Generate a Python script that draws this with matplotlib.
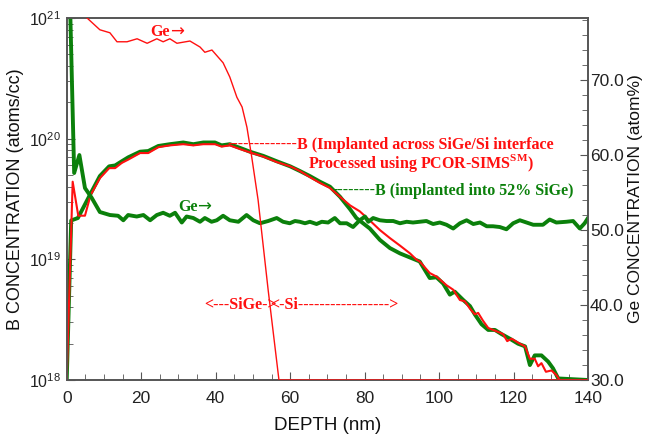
import matplotlib
matplotlib.use("Agg")
import matplotlib.pyplot as plt
from matplotlib.ticker import MultipleLocator, LogLocator, NullFormatter, FormatStrFormatter

plt.rcParams['font.family'] = ['Liberation Sans', 'DejaVu Sans']
plt.rcParams['mathtext.fontset'] = 'custom'
plt.rcParams['mathtext.rm'] = 'Liberation Serif:bold'
plt.rcParams['mathtext.bf'] = 'Liberation Serif:bold'

RED = '#ff1010'
GREEN = '#0b800b'

# B profile, implanted across SiGe/Si interface (red, left axis)
red_b_x = [0.0, 1.6, 3.1, 4.9, 6.4, 8.9, 11.4, 13.0, 14.8, 16.5, 19.7, 21.9, 24.6,
           27.7, 31.3, 34.0, 36.7, 39.8, 41.6, 43.8, 46.5, 49.2, 52.8, 56.4, 60.0,
           62.6, 65.3, 68.0, 70.7, 73.4, 76.1, 78.7, 81.4, 84.1, 86.8, 89.5, 92.2,
           94.0, 94.8, 97.5, 99.3, 102.0, 103.8, 105.6, 106.9, 108.3, 109.6, 110.5,
           111.8, 113.2, 114.5, 115.9, 117.2, 118.3, 119.5, 121.7, 123.1, 124.4,
           125.7, 126.6, 127.5, 128.7, 130.2, 131.5, 132.4, 140.0]
red_b = [1.0e18, 4.4e19, 2.3e19, 2.3e19, 3.4e19, 4.7e19, 5.7e19, 5.7e19, 6.3e19,
         6.7e19, 7.6e19, 7.6e19, 8.5e19, 8.8e19, 9.0e19, 8.8e19, 9.0e19, 9.0e19,
         8.6e19, 8.8e19, 8.2e19, 7.7e19, 7.1e19, 6.4e19, 5.9e19, 5.4e19, 4.8e19,
         4.3e19, 3.9e19, 3.3e19, 2.8e19, 2.5e19, 2.1e19, 1.75e19, 1.5e19, 1.3e19,
         1.12e19, 9.9e18, 9.6e18, 7.7e18, 7.2e18, 6.1e18, 5.6e18, 4.6e18, 4.5e18,
         3.9e18, 3.5e18, 3.6e18, 3.1e18, 2.7e18, 2.6e18, 2.5e18, 2.4e18, 2.1e18,
         2.2e18, 2.0e18, 1.9e18, 1.5e18, 1.5e18, 1.3e18, 1.38e18, 1.17e18, 1.2e18,
         1.1e18, 1.0e18, 1.0e18]

# B profile, implanted into 52% SiGe (green, left axis)
green_b_x = [0.0, 1.2, 3.0, 6.4, 8.9, 11.4, 13.0, 14.8, 16.5, 19.7, 21.9, 24.6, 27.7,
             31.3, 34.0, 36.7, 39.8, 41.6, 43.8, 46.5, 49.2, 52.8, 56.4, 60.0, 62.6,
             65.3, 68.0, 70.7, 73.4, 76.1, 77.8, 81.4, 84.1, 86.8, 89.5, 94.8, 97.5,
             99.3, 101.1, 102.9, 104.2, 106.5, 108.3, 109.6, 111.4, 113.2, 115.0,
             116.8, 119.0, 121.2, 123.1, 124.4, 125.7, 127.5, 129.3, 130.6, 132.0,
             140.0]
green_b = [1.0e18, 2.1e19, 2.2e19, 3.5e19, 4.9e19, 5.9e19, 6.0e19, 6.5e19, 7.0e19,
           7.8e19, 7.9e19, 8.7e19, 9.0e19, 9.3e19, 9.0e19, 9.3e19, 9.3e19, 8.8e19,
           9.0e19, 8.4e19, 7.8e19, 7.2e19, 6.5e19, 5.9e19, 5.4e19, 4.9e19, 4.4e19,
           4.0e19, 3.3e19, 2.6e19, 2.2e19, 1.8e19, 1.45e19, 1.24e19, 1.12e19, 9.6e18,
           7.0e18, 7.1e18, 6.3e18, 5.1e18, 5.4e18, 4.6e18, 4.1e18, 3.5e18, 2.9e18,
           2.6e18, 2.6e18, 2.4e18, 2.2e18, 2.0e18, 1.9e18, 1.33e18, 1.6e18, 1.6e18,
           1.42e18, 1.25e18, 1.03e18, 1.0e18]

# Ge profile of the interface sample (red, right axis)
red_ge_x = [0.0, 5.4, 8.9, 11.6, 13.5, 16.2, 18.9, 21.6, 24.2, 25.9, 27.7, 29.6,
            33.1, 35.8, 37.1, 39.0, 42.0, 43.8, 45.7, 47.1, 48.4, 49.7, 51.4, 54.1,
            57.0, 140.0]
red_ge = [80.0, 78.3, 76.7, 76.3, 75.1, 75.1, 75.5, 74.9, 75.5, 75.1, 75.5, 74.9,
          75.2, 74.4, 73.7, 74.0, 72.3, 70.4, 67.7, 66.4, 63.7, 59.7, 54.0, 42.0,
          30.0, 30.0]

# Ge profile of the 52% SiGe sample (green, right axis)
green_ge_x = [0.0, 0.9, 2.0, 3.4, 4.9, 6.7, 8.9, 11.6, 13.8, 15.2, 16.5, 18.8, 20.6,
              22.4, 24.2, 25.9, 27.7, 29.1, 30.9, 32.2, 34.0, 35.8, 37.1, 38.9, 40.3,
              42.0, 43.8, 46.1, 48.3, 50.1, 51.9, 54.1, 56.4, 58.1, 59.9, 61.3, 62.6,
              64.0, 65.3, 67.1, 68.5, 70.2, 72.0, 73.4, 75.2, 76.9, 78.7, 80.1, 81.0,
              82.3, 84.1, 85.9, 87.7, 89.5, 91.3, 93.0, 94.8, 96.6, 98.4, 100.2, 102.0,
              103.8, 105.6, 107.4, 109.2, 111.0, 112.8, 114.5, 116.3, 118.1, 119.9,
              121.7, 123.5, 125.3, 127.9, 129.7, 131.5, 134.2, 136.0, 137.8, 139.1,
              140.0]
green_ge = [85.0, 80.0, 57.6, 60.0, 55.6, 54.3, 52.4, 52.0, 51.9, 51.3, 52.0, 51.8,
            52.0, 51.3, 52.0, 52.3, 51.9, 52.3, 51.0, 51.8, 51.6, 51.1, 51.6, 51.1,
            51.3, 51.9, 51.3, 51.1, 52.0, 51.3, 50.9, 51.2, 51.6, 51.1, 50.9, 51.2,
            51.1, 50.9, 51.1, 50.8, 51.1, 51.0, 51.6, 50.9, 50.9, 50.4, 51.3, 51.8,
            51.1, 51.6, 51.3, 51.2, 51.2, 50.9, 51.1, 51.0, 51.1, 51.2, 50.8, 51.0,
            50.7, 50.2, 50.9, 51.3, 50.8, 51.0, 50.5, 50.5, 50.4, 50.1, 50.9, 51.3,
            51.0, 50.7, 50.7, 51.4, 51.0, 51.1, 51.2, 50.2, 50.9, 51.6]

fig = plt.figure(figsize=(6.49, 4.38), dpi=100)
ax = fig.add_axes([0.1028, 0.1324, 0.8032, 0.8265])
ax2 = ax.twinx()

ax.plot(green_b_x, green_b, color=GREEN, lw=2.8, zorder=2)
ax.plot(red_b_x, red_b, color=RED, lw=1.5, zorder=3)
ax2.plot(green_ge_x, green_ge, color=GREEN, lw=2.8, zorder=2)
ax2.plot(red_ge_x, red_ge, color=RED, lw=1.0, zorder=3)

ax.set_yscale('log')
ax.set_xlim(0, 140)
ax.set_ylim(1e18, 1e21)
ax2.set_ylim(30, 78.27)

ax.xaxis.set_major_locator(MultipleLocator(20))
ax.xaxis.set_minor_locator(MultipleLocator(5))
ax.yaxis.set_major_locator(LogLocator(base=10))
ax.yaxis.set_minor_locator(LogLocator(base=10, subs=range(2, 10)))
ax.yaxis.set_minor_formatter(NullFormatter())
ax2.yaxis.set_major_locator(MultipleLocator(10))
ax2.yaxis.set_minor_locator(MultipleLocator(2))
ax2.yaxis.set_major_formatter(FormatStrFormatter('%.1f'))

spine_c = '#555555'
for a in (ax, ax2):
    for s in a.spines.values():
        s.set_color(spine_c)
        s.set_linewidth(1.2)
ax.tick_params(axis='both', which='both', direction='in', colors=spine_c,
               labelcolor='#222222')
ax.tick_params(axis='x', labelsize=12.5, pad=8)
ax.tick_params(axis='y', labelsize=11.5, pad=4)
ax.tick_params(which='major', length=6)
ax.tick_params(which='minor', length=4)
ax2.tick_params(axis='y', which='both', direction='in', colors=spine_c,
                labelcolor='#222222', labelsize=12.5, pad=1.5)
ax2.tick_params(which='major', length=6)
ax2.tick_params(which='minor', length=4)

ax.set_xlabel('DEPTH (nm)', fontsize=13.5, color='#111111', labelpad=8)
ax.set_ylabel('B CONCENTRATION (atoms/cc)', fontsize=13, color='#111111', labelpad=4)
ax2.set_ylabel('Ge CONCENTRATION (atom%)', fontsize=12.5, color='#111111', labelpad=3)

serif = dict(family=['Liberation Serif', 'DejaVu Serif'], fontweight='bold', fontsize=11.5)
arrow = dict(family=['DejaVu Sans'], fontsize=12)

ax2.text(22.4, 76.4, 'Ge', color=RED, ha='left', va='center', **serif)
ax2.annotate('\u2192', xy=(22.4, 76.4), xytext=(14, 0), textcoords='offset points',
             color=RED, ha='left', va='center', **arrow)
ax2.text(29.9, 53.1, 'Ge', color=GREEN, ha='left', va='center', **serif)
ax2.annotate('\u2192', xy=(29.9, 53.1), xytext=(14, 0), textcoords='offset points',
             color=GREEN, ha='left', va='center', **arrow)

ax2.text(62.0, 61.3, '-------------', color=RED, ha='right', va='center', **serif)
ax2.text(61.8, 61.3, 'B (Implanted across SiGe/Si interface', color=RED,
         ha='left', va='center', **serif)
ax2.text(95.1, 58.9, 'Processed using PCOR-SIMS$^{\\mathrm{SM}}$)', color=RED,
         ha='center', va='center', **serif)

ax2.text(83.0, 55.2, '--------', color=GREEN, ha='right', va='center', **serif)
ax2.text(82.8, 55.2, 'B (implanted into 52% SiGe)', color=GREEN,
         ha='left', va='center', **serif)

ax2.text(56.3, 40.0, '<---SiGe->', color=RED, ha='right', va='center', **serif)
ax2.text(54.6, 40.0, '<-Si----------------->', color=RED, ha='left', va='center', **serif)

fig.savefig('out.png', dpi=100)
